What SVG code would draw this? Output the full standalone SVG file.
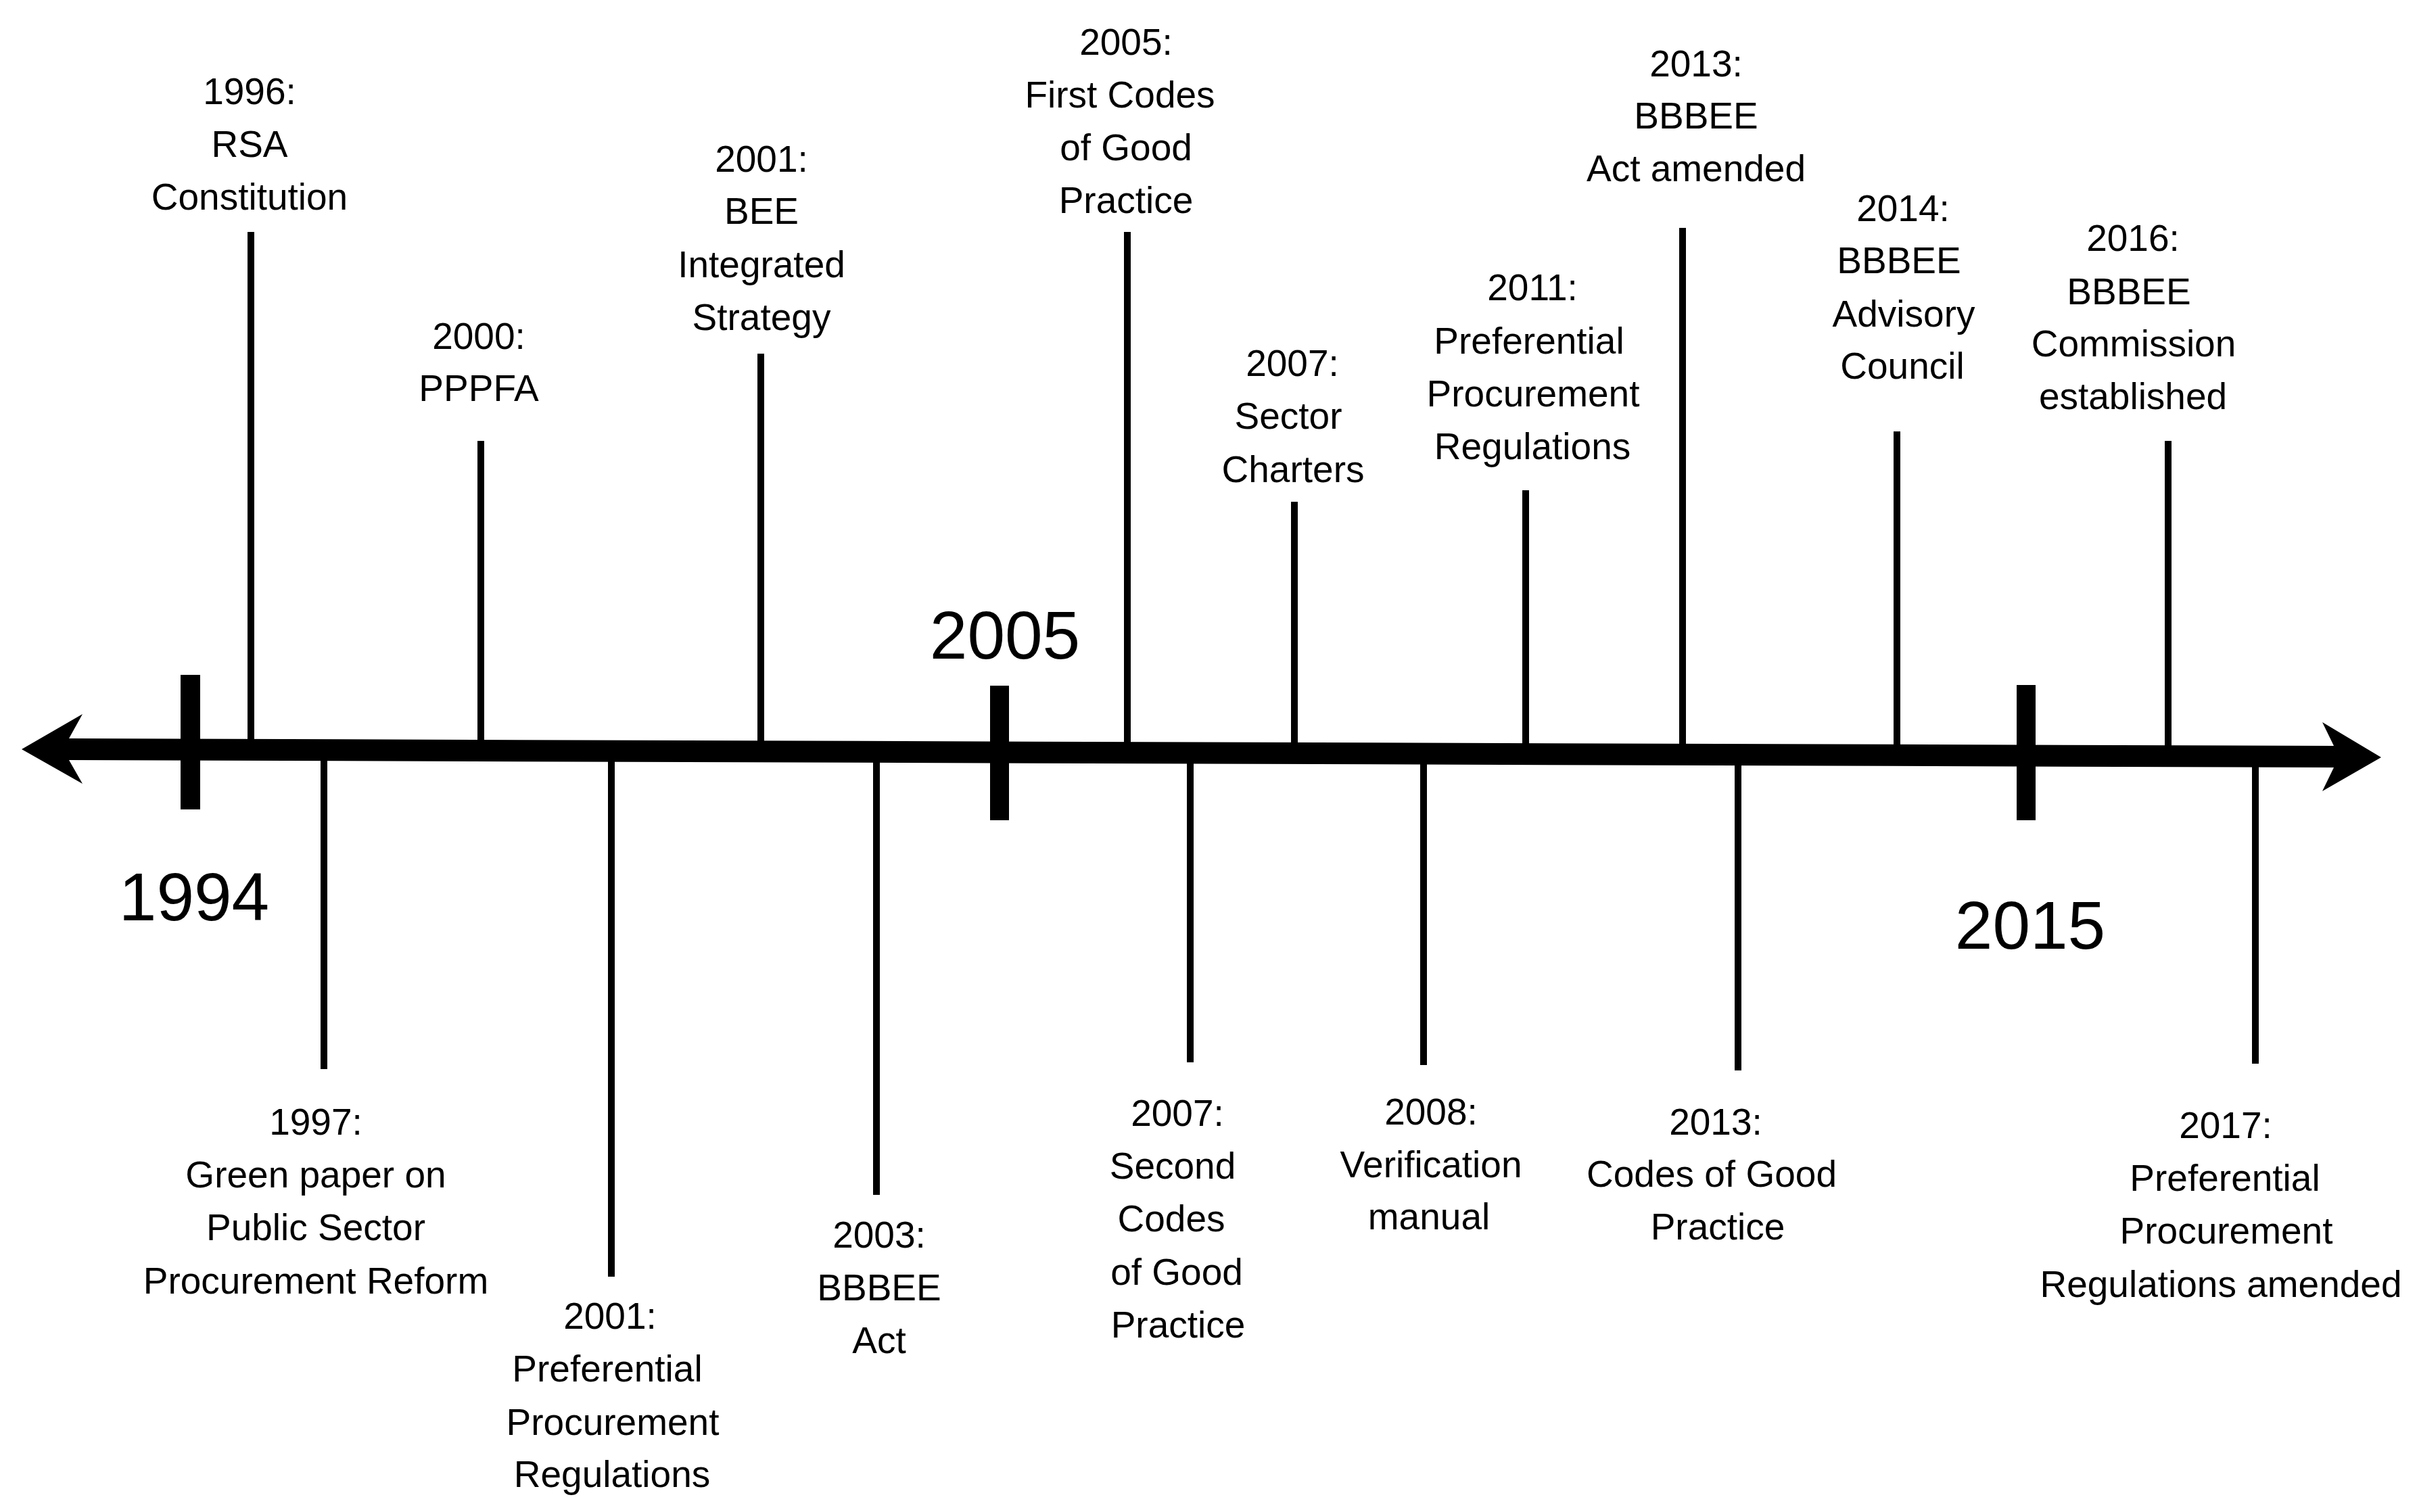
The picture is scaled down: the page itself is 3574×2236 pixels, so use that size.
<svg xmlns="http://www.w3.org/2000/svg" width="3574" height="2236" viewBox="0 0 3574 2236">
<style>
  .t { font-family: "Liberation Sans", Arial, sans-serif; font-size: 55px; text-anchor: middle; fill: #000; }
  .big { font-family: "Liberation Sans", Arial, sans-serif; font-size: 100px; text-anchor: middle; fill: #000; }
  .ev { stroke: #000; stroke-width: 10; fill: none; }
  .tick { fill: #000; }
</style>
<rect width="3574" height="2236" fill="#fff"/>

<g id="axis">
  <polygon fill="#000" points="32,1108 122,1056 102,1092 3451,1103 3434,1068 3521,1120 3434,1170 3451,1135 102,1124 122,1159"/>
  <rect class="tick" x="267" y="998" width="29" height="199"/>
  <rect class="tick" x="1464" y="1014" width="28" height="199"/>
  <rect class="tick" x="2982" y="1013" width="28" height="200"/>
</g>

<g id="connectors">
  <line class="ev" x1="371" y1="343" x2="371" y2="1100"/>
  <line class="ev" x1="711" y1="652" x2="711" y2="1100"/>
  <line class="ev" x1="1125" y1="523" x2="1125" y2="1100"/>
  <line class="ev" x1="1667" y1="343" x2="1667" y2="1105"/>
  <line class="ev" x1="1914" y1="742" x2="1914" y2="1105"/>
  <line class="ev" x1="2256" y1="725" x2="2256" y2="1108"/>
  <line class="ev" x1="2488" y1="337" x2="2488" y2="1108"/>
  <line class="ev" x1="2805" y1="638" x2="2805" y2="1110"/>
  <line class="ev" x1="3206" y1="652" x2="3206" y2="1112"/>

  <line class="ev" x1="479" y1="1110" x2="479" y2="1581"/>
  <line class="ev" x1="904" y1="1112" x2="904" y2="1888"/>
  <line class="ev" x1="1296" y1="1114" x2="1296" y2="1767"/>
  <line class="ev" x1="1760" y1="1115" x2="1760" y2="1571"/>
  <line class="ev" x1="2105" y1="1118" x2="2105" y2="1575"/>
  <line class="ev" x1="2570" y1="1120" x2="2570" y2="1583"/>
  <line class="ev" x1="3335" y1="1124" x2="3335" y2="1573"/>
</g>

<g id="year-1994"><text class="big" x="287" y="1361">1994</text></g>
<g id="year-2005"><text class="big" x="1486" y="974">2005</text></g>
<g id="year-2015"><text class="big" x="3002" y="1403">2015</text></g>

<g id="ev-1996">
  <text class="t" x="369" y="154">1996:</text>
  <text class="t" x="369" y="232">RSA</text>
  <text class="t" x="369" y="310">Constitution</text>
</g>
<g id="ev-2000">
  <text class="t" x="708" y="516">2000:</text>
  <text class="t" x="708" y="593">PPPFA</text>
</g>
<g id="ev-2001-bee">
  <text class="t" x="1126" y="254">2001:</text>
  <text class="t" x="1126" y="331">BEE</text>
  <text class="t" x="1126" y="410">Integrated</text>
  <text class="t" x="1126" y="488">Strategy</text>
</g>
<g id="ev-2005">
  <text class="t" x="1665" y="81">2005:</text>
  <text class="t" x="1656" y="159">First Codes</text>
  <text class="t" x="1665" y="237">of Good</text>
  <text class="t" x="1665" y="315">Practice</text>
</g>
<g id="ev-2007-sector">
  <text class="t" x="1911" y="556">2007:</text>
  <text class="t" x="1905" y="634">Sector</text>
  <text class="t" x="1912" y="713">Charters</text>
</g>
<g id="ev-2011">
  <text class="t" x="2266" y="444">2011:</text>
  <text class="t" x="2261" y="523">Preferential</text>
  <text class="t" x="2267" y="601">Procurement</text>
  <text class="t" x="2266" y="679">Regulations</text>
</g>
<g id="ev-2013-act">
  <text class="t" x="2508" y="113">2013:</text>
  <text class="t" x="2508" y="190">BBBEE</text>
  <text class="t" x="2508" y="268">Act amended</text>
</g>
<g id="ev-2014">
  <text class="t" x="2814" y="327">2014:</text>
  <text class="t" x="2808" y="404">BBBEE</text>
  <text class="t" x="2815" y="483">Advisory</text>
  <text class="t" x="2813" y="560">Council</text>
</g>
<g id="ev-2016">
  <text class="t" x="3154" y="371">2016:</text>
  <text class="t" x="3148" y="450">BBBEE</text>
  <text class="t" x="3155" y="527">Commission</text>
  <text class="t" x="3154" y="605">established</text>
</g>

<g id="ev-1997">
  <text class="t" x="467" y="1678">1997:</text>
  <text class="t" x="467" y="1756">Green paper on</text>
  <text class="t" x="467" y="1834">Public Sector</text>
  <text class="t" x="467" y="1913">Procurement Reform</text>
</g>
<g id="ev-2001-ppr">
  <text class="t" x="902" y="1965">2001:</text>
  <text class="t" x="898" y="2043">Preferential</text>
  <text class="t" x="906" y="2122">Procurement</text>
  <text class="t" x="905" y="2199">Regulations</text>
</g>
<g id="ev-2003">
  <text class="t" x="1300" y="1845">2003:</text>
  <text class="t" x="1300" y="1923">BBBEE</text>
  <text class="t" x="1300" y="2001">Act</text>
</g>
<g id="ev-2007-second">
  <text class="t" x="1741" y="1665">2007:</text>
  <text class="t" x="1734" y="1743">Second</text>
  <text class="t" x="1732" y="1821">Codes</text>
  <text class="t" x="1740" y="1900">of Good</text>
  <text class="t" x="1742" y="1978">Practice</text>
</g>
<g id="ev-2008">
  <text class="t" x="2116" y="1663">2008:</text>
  <text class="t" x="2116" y="1741">Verification</text>
  <text class="t" x="2113" y="1818">manual</text>
</g>
<g id="ev-2013-codes">
  <text class="t" x="2537" y="1678">2013:</text>
  <text class="t" x="2531" y="1755">Codes of Good</text>
  <text class="t" x="2540" y="1833">Practice</text>
</g>
<g id="ev-2017">
  <text class="t" x="3291" y="1683">2017:</text>
  <text class="t" x="3290" y="1761">Preferential</text>
  <text class="t" x="3292" y="1839">Procurement</text>
  <text class="t" x="3284" y="1918">Regulations amended</text>
</g>
</svg>
